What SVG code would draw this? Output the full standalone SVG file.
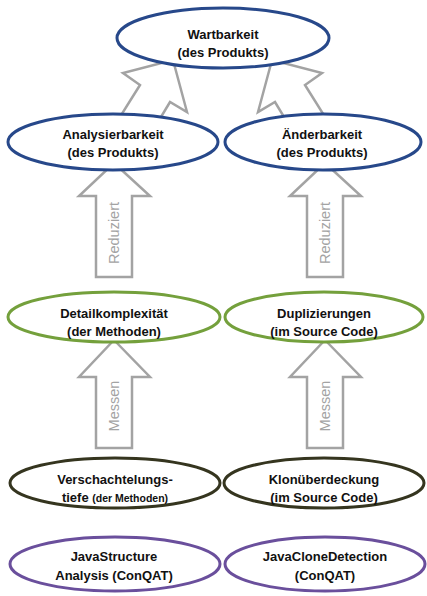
<svg xmlns="http://www.w3.org/2000/svg" width="427" height="596" viewBox="0 0 427 596">
<style>
.t{font-family:"Liberation Sans",Arial,sans-serif;font-weight:bold;font-size:13px;fill:#111;text-anchor:middle}
.s{font-size:10.5px}
.e{fill:#fff;stroke-width:3}
.blue{stroke:#27488a}
.green{stroke:#74a03c}
.dark{stroke:#35351f}
.purple{stroke:#6a4f9c}
.arr{fill:#fff;stroke:#a3a3a3;stroke-width:2.5;stroke-linejoin:miter}
.lbl{font-family:"Liberation Sans",Arial,sans-serif;font-size:14.5px;fill:#a3a3a3;text-anchor:middle}
</style>
<rect width="427" height="596" fill="#fff"/>
<g id="connectors">
<polygon class="arr" points="173,60 187,112 170,102 158,122 118,120 140,85 123,73"/>
<polygon class="arr" points="272,60 258,112 275,102 287,122 327,120 305,85 322,73"/>
<polygon class="arr" points="114,163 150,196 132,196 132,277 96,277 96,196 79,196"/>
<polygon class="arr" points="325,163 361,196 343,196 343,277 307,277 307,196 290,196"/>
<polygon class="arr" points="114,340 150,377 132,377 132,448 96,448 96,377 79,377"/>
<polygon class="arr" points="325,340 361,377 343,377 343,448 307,448 307,377 290,377"/>
<text class="lbl" transform="translate(119,233) rotate(-90)">Reduziert</text>
<text class="lbl" transform="translate(330,233) rotate(-90)">Reduziert</text>
<text class="lbl" transform="translate(119,406) rotate(-90)">Messen</text>
<text class="lbl" transform="translate(330,406) rotate(-90)">Messen</text>
</g>
<g id="wartbarkeit">
<ellipse class="e blue" cx="223" cy="38" rx="106" ry="30"/>
<text class="t" x="223" y="39">Wartbarkeit</text>
<text class="t" x="223" y="57">(des Produkts)</text>
</g>
<g id="analysierbarkeit">
<ellipse class="e blue" cx="113" cy="142" rx="105" ry="28"/>
<text class="t" x="113" y="139">Analysierbarkeit</text>
<text class="t" x="113" y="157">(des Produkts)</text>
</g>
<g id="aenderbarkeit">
<ellipse class="e blue" cx="323" cy="142" rx="98" ry="28"/>
<text class="t" x="322" y="139">Änderbarkeit</text>
<text class="t" x="322" y="157">(des Produkts)</text>
</g>
<g id="detailkomplexitaet">
<ellipse class="e green" cx="114" cy="317" rx="106" ry="25"/>
<text class="t" x="114" y="318">Detailkomplexität</text>
<text class="t" x="114" y="336">(der Methoden)</text>
</g>
<g id="duplizierungen">
<ellipse class="e green" cx="324" cy="317" rx="99" ry="25"/>
<text class="t" x="324" y="318">Duplizierungen</text>
<text class="t" x="324" y="336">(im Source Code)</text>
</g>
<g id="verschachtelungstiefe">
<ellipse class="e dark" cx="115" cy="483" rx="105" ry="25"/>
<text class="t" x="115" y="484">Verschachtelungs-</text>
<text class="t" x="115" y="502">tiefe <tspan class="s">(der Methoden)</tspan></text>
</g>
<g id="klonueberdeckung">
<ellipse class="e dark" cx="324" cy="483" rx="100" ry="25"/>
<text class="t" x="324" y="484">Klonüberdeckung</text>
<text class="t" x="324" y="502">(im Source Code)</text>
</g>
<g id="javastructure">
<ellipse class="e purple" cx="115" cy="564" rx="105" ry="27"/>
<text class="t" x="114" y="561">JavaStructure</text>
<text class="t" x="114" y="580">Analysis (ConQAT)</text>
</g>
<g id="javaclone">
<ellipse class="e purple" cx="325" cy="564" rx="100" ry="27"/>
<text class="t" x="325" y="561">JavaCloneDetection</text>
<text class="t" x="325" y="580">(ConQAT)</text>
</g>
</svg>
